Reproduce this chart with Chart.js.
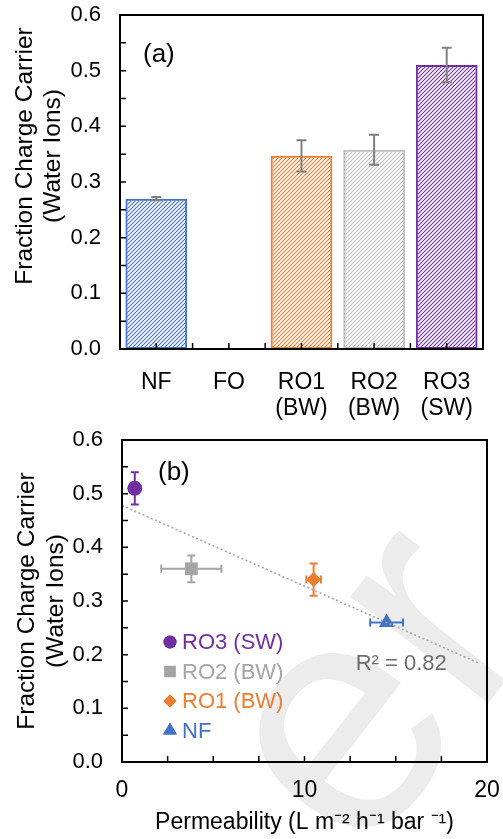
<!DOCTYPE html>
<html>
<head>
<meta charset="utf-8">
<script src="https://cdn.jsdelivr.net/npm/chart.js@4.4.1/dist/chart.umd.min.js"></script>
<style>
  html, body { margin: 0; padding: 0; background: #fff; }
  #wrap { position: relative; width: 503px; height: 839px; overflow: hidden; }
  .box { position: absolute; left: 0; width: 503px; }
  #boxA { top: 0; height: 420px; }
  #boxB { top: 420px; height: 419px; }
</style>
</head>
<body>
<div id="wrap">
  <div class="box" id="boxA"><canvas id="ca"></canvas></div>
  <div class="box" id="boxB"><canvas id="cb"></canvas></div>
</div>
<script>
'use strict';

const FONT = "'Liberation Sans', Arial, Helvetica, sans-serif";

// ── (a) bar chart data ───────────────────────────────────────────────────
const BAR_LABELS = [['NF'], ['FO'], ['RO1', '(BW)'], ['RO2', '(BW)'], ['RO3', '(SW)']];
const BAR_VALUES = [0.27, 0, 0.347, 0.358, 0.51];
const BAR_ERRORS = [0.003, 0, 0.028, 0.027, 0.031];
const BAR_COLORS = ['#4472c4', '#4472c4', '#ed7d31', '#bfbfbf', '#7030a0'];

// ── (b) scatter data ─────────────────────────────────────────────────────
const SAMPLE_NAMES  = ['RO3 (SW)', 'RO2 (BW)', 'RO1 (BW)', 'NF'];
const PERM_X        = [0.7, 3.8, 10.5, 14.5];
const PERM_XERR     = [0, 1.65, 0.4, 0.9];
const FRAC_Y        = [0.51, 0.36, 0.34, 0.26];
const FRAC_YERR     = [0.03, 0.025, 0.03, 0.004];
const SAMPLE_COLORS = ['#7030a0', '#a5a5a5', '#ed7d31', '#4472c4'];
const SAMPLE_SHAPES = ['circle', 'rect', 'rectRot', 'triangle'];
const SAMPLE_RADIUS = [7.5, 9, 7.5, 9];
const TREND_X       = [0, 19.5];
const TREND_Y       = [0.478, 0.185];
const R2_TEXT       = 'R² = 0.82';
const WATERMARK     = 'er';

// axis ranges / ticks
const Y_MIN = 0, Y_MAX = 0.6, Y_STEP = 0.1, Y_MINOR = 0.05;
const PX_MIN = 0, PX_MAX = 20, PX_STEP = 10, PX_MINOR = 2.5;

const Y_TITLE = ['Fraction Charge Carrier', '(Water Ions)'];
const X_TITLE_B = 'Permeability (L m⁻² h⁻¹ bar ⁻¹)';

function hatch(ctx, color) {
  const c = document.createElement('canvas');
  c.width = c.height = 4;
  const g = c.getContext('2d');
  g.strokeStyle = color;
  g.lineWidth = 1.1;
  g.beginPath();
  g.moveTo(0, 4); g.lineTo(4, 0);
  g.moveTo(-1, 1); g.lineTo(1, -1);
  g.moveTo(3, 5); g.lineTo(5, 3);
  g.stroke();
  return ctx.createPattern(c, 'repeat');
}

function range(a, b, step) {
  const out = [];
  for (let v = a; v <= b + 1e-9; v += step) out.push(+v.toFixed(4));
  return out;
}

// frame around plot area + inward tick marks
const framePlugin = {
  id: 'frame',
  afterDatasetsDraw(chart, args, opts) {
    const {ctx, chartArea: a} = chart;
    const ys = chart.scales.y;
    ctx.save();
    ctx.strokeStyle = '#000';
    ctx.lineWidth = 1.5;
    ctx.beginPath();
    for (const v of range(Y_MIN, Y_MAX, Y_MINOR)) {
      const py = ys.getPixelForValue(v);
      ctx.moveTo(a.left, py); ctx.lineTo(a.left + 6, py);
    }
    for (const px of opts.xTicks(chart)) {
      ctx.moveTo(px, a.bottom); ctx.lineTo(px, a.bottom - 6);
    }
    ctx.stroke();
    ctx.lineWidth = 2;
    ctx.strokeRect(a.left, a.top, a.right - a.left, a.bottom - a.top);
    ctx.restore();
  }
};

// two-line rotated y title, centred a little off the plot middle
const yTitlePlugin = {
  id: 'yTitle',
  afterDraw(chart, args, opts) {
    const {ctx, chartArea: a} = chart;
    ctx.save();
    ctx.font = opts.size + 'px ' + FONT;
    ctx.fillStyle = '#000';
    ctx.textAlign = 'center';
    ctx.textBaseline = 'middle';
    const cy = (a.top + a.bottom) / 2 + opts.shift;
    Y_TITLE.forEach((t, i) => {
      ctx.save();
      ctx.translate(opts.x + i * opts.gap, cy);
      ctx.rotate(-Math.PI / 2);
      ctx.fillText(t, 0, 0);
      ctx.restore();
    });
    ctx.restore();
  }
};

// free text drawn in data coordinates or relative to the plot corner
const notesPlugin = {
  id: 'notes',
  afterDraw(chart, args, opts) {
    const {ctx, chartArea: a} = chart;
    ctx.save();
    for (const n of opts.items) {
      ctx.font = n.size + 'px ' + FONT;
      ctx.fillStyle = n.color;
      ctx.textAlign = n.align || 'left';
      ctx.textBaseline = 'middle';
      const x = n.dx != null ? a.left + n.dx : chart.scales.x.getPixelForValue(n.x);
      const y = n.dy != null ? a.top + n.dy : chart.scales.y.getPixelForValue(n.y);
      ctx.fillText(n.text, x, y);
    }
    ctx.restore();
  }
};

// shared y axis (labels pushed out with an invisible tick length so the
// chart area is not shrunk by label padding)
function yAxis(width) {
  return {
    min: Y_MIN, max: Y_MAX,
    grid: {display: false, drawTicks: true, tickLength: 19},
    border: {display: false},
    ticks: {stepSize: Y_STEP, color: '#000', font: {size: 22, family: FONT}, padding: 0,
            callback: v => Number(v).toFixed(1)},
    afterFit: s => { s.width = width; },
  };
}

// ── (a) ──────────────────────────────────────────────────────────────────
const barErrPlugin = {
  id: 'barErr',
  afterDatasetsDraw(chart) {
    const {ctx} = chart;
    const xs = chart.scales.x, ys = chart.scales.y;
    ctx.save();
    ctx.strokeStyle = '#808080';
    ctx.lineWidth = 2;
    BAR_VALUES.forEach((v, i) => {
      const e = BAR_ERRORS[i];
      if (!e) return;
      const px = xs.getPixelForValue(i);
      const y1 = ys.getPixelForValue(v - e), y2 = ys.getPixelForValue(v + e);
      ctx.beginPath();
      ctx.moveTo(px, y1); ctx.lineTo(px, y2);
      ctx.moveTo(px - 5, y1); ctx.lineTo(px + 5, y1);
      ctx.moveTo(px - 5, y2); ctx.lineTo(px + 5, y2);
      ctx.stroke();
    });
    ctx.restore();
  }
};

const ctxA = document.getElementById('ca').getContext('2d');
new Chart(ctxA, {
  type: 'bar',
  data: {
    labels: BAR_LABELS,
    datasets: [{
      data: BAR_VALUES,
      backgroundColor: BAR_COLORS.map(c => hatch(ctxA, c)),
      borderColor: BAR_COLORS,
      borderWidth: 2,
      borderSkipped: false,
      barPercentage: 0.85,
      categoryPercentage: 1,
    }],
  },
  options: {
    responsive: true,
    maintainAspectRatio: false,
    animation: false,
    layout: {padding: {top: 15, right: 20, left: 0, bottom: 0}},
    plugins: {
      legend: {display: false},
      tooltip: {enabled: false},
      frame: {
        xTicks: chart => {
          const xs = chart.scales.x, out = [];
          for (let i = 0; i < BAR_LABELS.length; i++) {
            const c = xs.getPixelForValue(i);
            out.push(c);
            if (i < BAR_LABELS.length - 1) out.push((c + xs.getPixelForValue(i + 1)) / 2);
          }
          return out;
        },
      },
      yTitle: {size: 24.5, x: 25, gap: 28.5, shift: -26},
      notes: {items: [{text: '(a)', dx: 23, dy: 40, size: 26, color: '#000'}]},
    },
    scales: {
      x: {
        grid: {display: false, drawTicks: true, tickLength: 20},
        border: {display: false},
        ticks: {color: '#000', font: {size: 23, family: FONT, lineHeight: 1.15}, padding: 0,
                maxRotation: 0, autoSkip: false},
        afterFit: s => { s.height = 71; },
      },
      y: yAxis(120),
    },
  },
  plugins: [framePlugin, barErrPlugin, yTitlePlugin, notesPlugin],
});

// ── (b) ──────────────────────────────────────────────────────────────────
// faint rotated page watermark sitting behind panel (b)
const watermarkPlugin = {
  id: 'watermark',
  beforeDraw(chart) {
    const {ctx} = chart;
    ctx.save();
    ctx.translate(361, 446);
    ctx.rotate(-52 * Math.PI / 180);
    ctx.font = '330px ' + FONT;
    ctx.fillStyle = '#ececec';
    ctx.textBaseline = 'alphabetic';
    ctx.fillText(WATERMARK, 0, 0);
    ctx.restore();
  }
};

const scatterErrPlugin = {
  id: 'scatterErr',
  beforeDatasetsDraw(chart) {
    const {ctx} = chart;
    const xs = chart.scales.x, ys = chart.scales.y;
    ctx.save();
    ctx.lineWidth = 2;
    SAMPLE_NAMES.forEach((n, i) => {
      const px = xs.getPixelForValue(PERM_X[i]), py = ys.getPixelForValue(FRAC_Y[i]);
      ctx.strokeStyle = SAMPLE_COLORS[i];
      ctx.beginPath();
      if (FRAC_YERR[i]) {
        const y1 = ys.getPixelForValue(FRAC_Y[i] - FRAC_YERR[i]);
        const y2 = ys.getPixelForValue(FRAC_Y[i] + FRAC_YERR[i]);
        ctx.moveTo(px, y1); ctx.lineTo(px, y2);
        ctx.moveTo(px - 4, y1); ctx.lineTo(px + 4, y1);
        ctx.moveTo(px - 4, y2); ctx.lineTo(px + 4, y2);
      }
      if (PERM_XERR[i]) {
        const x1 = xs.getPixelForValue(PERM_X[i] - PERM_XERR[i]);
        const x2 = xs.getPixelForValue(PERM_X[i] + PERM_XERR[i]);
        ctx.moveTo(x1, py); ctx.lineTo(x2, py);
        ctx.moveTo(x1, py - 4); ctx.lineTo(x1, py + 4);
        ctx.moveTo(x2, py - 4); ctx.lineTo(x2, py + 4);
      }
      ctx.stroke();
    });
    ctx.restore();
  }
};

// legend drawn inside the plot, text coloured like the marker
const innerLegendPlugin = {
  id: 'innerLegend',
  afterDraw(chart) {
    const {ctx, chartArea: a} = chart;
    ctx.save();
    ctx.font = '22px ' + FONT;
    ctx.textBaseline = 'middle';
    ctx.textAlign = 'left';
    SAMPLE_NAMES.forEach((n, i) => {
      const y = a.top + 202 + i * 29.5;
      ctx.fillStyle = SAMPLE_COLORS[i];
      Chart.helpers.drawPoint(ctx, {pointStyle: SAMPLE_SHAPES[i], radius: SAMPLE_RADIUS[i] - 1, rotation: 0, borderWidth: 0}, a.left + 48, y);
      ctx.fill();
      ctx.fillStyle = SAMPLE_COLORS[i];
      ctx.fillText(n, a.left + 60, y + 1);
    });
    ctx.restore();
  }
};

const ctxB = document.getElementById('cb').getContext('2d');
new Chart(ctxB, {
  type: 'scatter',
  data: {
    datasets: [
      {
        type: 'line',
        data: TREND_X.map((x, i) => ({x, y: TREND_Y[i]})),
        borderColor: '#a6a6a6',
        borderWidth: 1.6,
        borderDash: [2, 2.5],
        pointRadius: 0,
        fill: false,
      },
      ...SAMPLE_NAMES.map((n, i) => ({
        label: n,
        data: [{x: PERM_X[i], y: FRAC_Y[i]}],
        pointStyle: SAMPLE_SHAPES[i],
        pointRadius: SAMPLE_RADIUS[i],
        backgroundColor: SAMPLE_COLORS[i],
        borderColor: SAMPLE_COLORS[i],
        borderWidth: 0,
      })),
    ],
  },
  options: {
    responsive: true,
    maintainAspectRatio: false,
    animation: false,
    layout: {padding: {top: 20, right: 16, left: 0, bottom: 0}},
    plugins: {
      legend: {display: false},
      tooltip: {enabled: false},
      frame: {
        xTicks: chart => range(PX_MIN, PX_MAX, PX_MINOR).map(v => chart.scales.x.getPixelForValue(v)),
      },
      yTitle: {size: 24.5, x: 27, gap: 29.5, shift: 0},
      notes: {items: [
        {text: '(b)', dx: 36, dy: 33, size: 26, color: '#000'},
        {text: R2_TEXT, x: 15.3, y: 0.183, size: 22, color: '#6e6e6e', align: 'center'},
      ]},
    },
    scales: {
      x: {
        type: 'linear', min: PX_MIN, max: PX_MAX,
        grid: {display: false, drawTicks: true, tickLength: 15},
        border: {display: false},
        ticks: {stepSize: PX_STEP, color: '#000', font: {size: 23, family: FONT, lineHeight: 1.15},
                padding: 0, maxRotation: 0},
        title: {display: true, text: X_TITLE_B, color: '#000', font: {size: 23, family: FONT, lineHeight: 1.15},
                padding: {top: 0, bottom: 3}},
        afterFit: s => { s.height = 77; },
      },
      y: yAxis(122),
    },
  },
  plugins: [watermarkPlugin, framePlugin, scatterErrPlugin, innerLegendPlugin, yTitlePlugin, notesPlugin],
});
</script>
</body>
</html>
